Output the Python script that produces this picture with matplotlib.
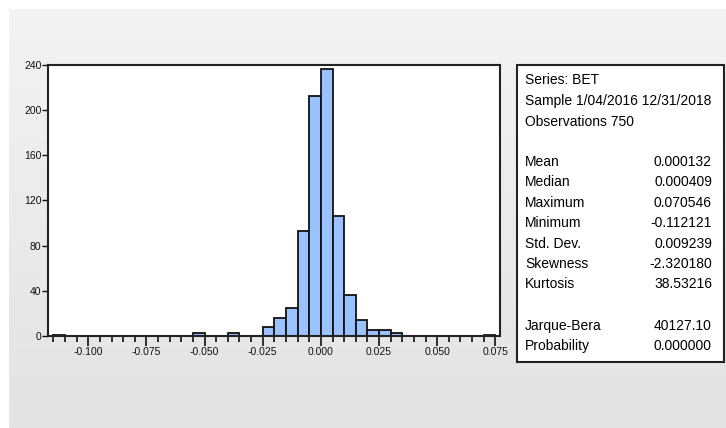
import numpy as np
import matplotlib.pyplot as plt
from matplotlib.patches import Rectangle

# histogram bins (left edges) and counts, bin width 0.005
bin_left = [-0.115, -0.055, -0.040, -0.025, -0.020, -0.015, -0.010, -0.005,
            0.000, 0.005, 0.010, 0.015, 0.020, 0.025, 0.030, 0.070]
counts = [1, 2, 2, 8, 16, 25, 93, 213, 237, 106, 36, 14, 5, 5, 2, 1]
bin_width = 0.005

stat_labels = ["Mean", "Median", "Maximum", "Minimum", "Std. Dev.",
               "Skewness", "Kurtosis"]
stat_values = ["0.000132", "0.000409", "0.070546", "-0.112121", "0.009239",
               "-2.320180", "38.53216"]
test_labels = ["Jarque-Bera", "Probability"]
test_values = ["40127.10", "0.000000"]
header = ["Series: BET", "Sample 1/04/2016 12/31/2018", "Observations 750"]

W, H = 726, 428
fig = plt.figure(figsize=(W / 100, H / 100), dpi=100)
fig.patch.set_facecolor("white")
plt.rcParams['font.family'] = ['Liberation Sans', 'DejaVu Sans']

# gray panel with soft vertical gradient
bg = fig.add_axes([9 / W, 0, 1 - 9 / W, 1 - 9 / H], zorder=-10)
grad = np.linspace(0, 1, 256).reshape(-1, 1)
bg.imshow(grad, aspect="auto", cmap=plt.matplotlib.colors.LinearSegmentedColormap.from_list(
    "g", ["#f3f3f3", "#e3e3e3"]), extent=[0, 1, 0, 1], origin="upper")
bg.axis("off")

def px(x0, y0, x1, y1):
    # pixel box (top-left origin) -> figure fraction rect
    return [x0 / W, 1 - y1 / H, (x1 - x0) / W, (y1 - y0) / H]

ax = fig.add_axes(px(48.3, 64.7, 500, 335.7))
ax.set_facecolor("white")
ax.bar(bin_left, counts, width=bin_width, align="edge", color="#99c2ff",
       edgecolor="#111111", linewidth=1.3)
ax.set_xlim(-0.1172, 0.077)
ax.set_ylim(0, 240.5)

ax.set_yticks(np.arange(0, 241, 40))
ax.set_yticklabels([str(v) for v in range(0, 241, 40)])
ax.set_xticks(np.arange(-0.100, 0.0751, 0.025))
ax.set_xticklabels(["-0.100", "-0.075", "-0.050", "-0.025", "0.000",
                    "0.025", "0.050", "0.075"])
ax.set_xticks(np.arange(-0.115, 0.0751, 0.005), minor=True)
ax.tick_params(axis="x", which="major", direction="out", length=7, width=1.2,
               labelsize=7.5, pad=1, colors="#111111")
ax.tick_params(axis="x", which="minor", direction="out", length=4, width=1.2,
               colors="#111111")
ax.tick_params(axis="y", direction="out", length=4, width=1.0,
               labelsize=7.5, pad=1, colors="#111111")
for s in ax.spines.values():
    s.set_linewidth(1.5)
    s.set_color("#222222")

# statistics box
box = Rectangle((517 / W, 1 - 361.7 / H), (724 - 517) / W, (361.7 - 65.3) / H,
                transform=fig.transFigure, facecolor="white",
                edgecolor="#222222", linewidth=1.5)
fig.patches.append(box)

fs = 10
lx, rx = 525 / W, 712 / W
y = 80
for line in header:
    fig.text(lx, 1 - y / H, line, fontsize=fs, va="center", ha="left")
    y += 20.8
y = 162
for lab, val in zip(stat_labels, stat_values):
    fig.text(lx, 1 - y / H, lab, fontsize=fs, va="center", ha="left")
    fig.text(rx, 1 - y / H, val, fontsize=fs, va="center", ha="right")
    y += 20.4
y = 326
for lab, val in zip(test_labels, test_values):
    fig.text(lx, 1 - y / H, lab, fontsize=fs, va="center", ha="left")
    fig.text(rx, 1 - y / H, val, fontsize=fs, va="center", ha="right")
    y += 20.4

fig.savefig("out.png", dpi=100)
